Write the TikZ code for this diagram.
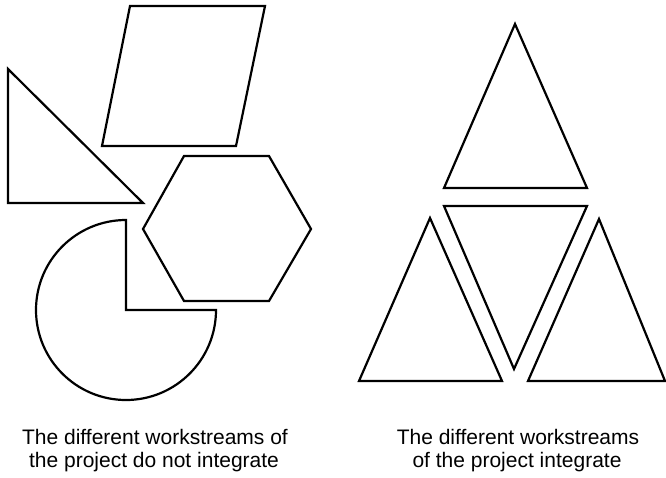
\documentclass[tikz,border=0pt]{standalone}
\usepackage{fontspec}
\setmainfont{Liberation Sans}
\begin{document}
\begin{tikzpicture}[x=1pt,y=-1pt,
  shapeline/.style={draw=black,line width=2.2pt,line join=miter,fill=white},
  caption/.style={anchor=base,inner sep=0pt,font=\fontsize{21}{23.5}\selectfont}]
\useasboundingbox (0,0) rectangle (666,477);
% left group
\draw[shapeline] (130,6) -- (265,6) -- (236,146) -- (102,146) -- cycle;
\draw[shapeline] (8,69) -- (143,203) -- (8,203) -- cycle;
\draw[shapeline] (184,156) -- (269,156) -- (311,229) -- (269,301) -- (184,301) -- (143,229) -- cycle;
\draw[shapeline] (126,310) -- (126,220) arc[start angle=90,end angle=360,radius=90pt] -- cycle;
% right group
\draw[shapeline] (515,24) -- (587,188) -- (444,188) -- cycle;
\draw[shapeline] (444,206) -- (587,206) -- (514,369) -- cycle;
\draw[shapeline] (430,218) -- (502,381) -- (359,381) -- cycle;
\draw[shapeline] (599,219) -- (665,381) -- (528,381) -- cycle;
% captions
\node[caption] (l1) at (155,444) {The different workstreams of};
\node[caption] (l2) at (154,467) {the project do not integrate};
\node[caption] (r1) at (518,444) {The different workstreams};
\node[caption] (r2) at (517,467) {of the project integrate};
\end{tikzpicture}
\end{document}
